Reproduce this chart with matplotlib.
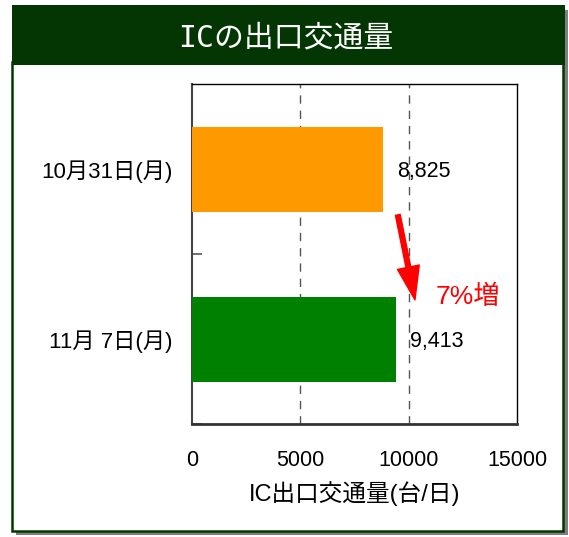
import matplotlib
matplotlib.use("Agg")
import matplotlib.pyplot as plt
from matplotlib.patches import Rectangle

plt.rcParams['font.family'] = ['Liberation Sans', 'Noto Sans CJK JP']

# data
dates = ['10月31日(月)', '11月 7日(月)']
traffic = [8825, 9413]
bar_colors = ['#FF9900', '#008000']
x_ticks = [0, 5000, 10000, 15000]
title = 'ICの出口交通量'
x_label = 'IC出口交通量(台/日)'
change_text = '7%増'

W, H = 569, 537
fig = plt.figure(figsize=(W / 100, H / 100), dpi=100)


def px(x0, y0, x1, y1):
    # pixel box (top-left origin) -> figure fractions
    return (x0 / W, 1 - y1 / H), (x1 - x0) / W, (y1 - y0) / H


# panel frame: shadow, white box, header
xy, w, h = px(16, 10, 568, 535)
fig.patches.append(Rectangle(xy, w, h, transform=fig.transFigure,
                             facecolor='#7f7f7f', edgecolor='none', zorder=0))
xy, w, h = px(12, 62, 563, 531)
fig.patches.append(Rectangle(xy, w, h, transform=fig.transFigure,
                             facecolor='white', edgecolor='#033603', lw=1.8, zorder=1))
xy, w, h = px(12, 5, 565, 65)
fig.patches.append(Rectangle(xy, w, h, transform=fig.transFigure,
                             facecolor='#033603', edgecolor='none', zorder=2))
fig.text(286 / W, 1 - 38 / H, title, color='white', fontsize=21.5,
         ha='center', va='center', family=['DejaVu Sans Mono', 'Noto Sans CJK JP'])

(l, b), w, h = px(192, 84, 517, 424)
ax = fig.add_axes([l, b, w, h])
ax.set_zorder(3)

ypos = list(range(len(dates)))
ax.barh(ypos, traffic, height=0.5, color=bar_colors, zorder=3)
for y, v in zip(ypos, traffic):
    ax.annotate(f'{v:,}', (v, y), xytext=(10, -1.5), textcoords='offset points',
                ha='left', va='center', fontsize=15.5)

ax.set_xlim(x_ticks[0], x_ticks[-1])
ax.set_ylim(1.5, -0.5)
ax.set_xticks(x_ticks)
ax.set_yticks(ypos)
ax.set_yticklabels(dates, fontsize=16)
ax.set_yticks([0.5, 1.5], minor=True)
ax.tick_params(axis='y', which='major', length=0, pad=14)
ax.tick_params(axis='y', which='minor', direction='in', length=7, color='#555555', width=1.2)
ax.tick_params(axis='x', which='major', length=0, pad=19, labelsize=15.5)
ax.set_xlabel(x_label, fontsize=17, labelpad=7)

for xv in x_ticks[1:-1]:
    ax.axvline(xv, color='#555555', lw=1, ls=(0, (6, 5)), zorder=1)

for s in ['top', 'right']:
    ax.spines[s].set_color('black')
    ax.spines[s].set_linewidth(1)
ax.spines['left'].set_color('#444444')
ax.spines['left'].set_linewidth(1.5)
ax.spines['bottom'].set_color('#333333')
ax.spines['bottom'].set_linewidth(2)

# change arrow between the two bars
ax.annotate('', xy=(10290, 0.77), xytext=(9500, 0.27),
            arrowprops=dict(facecolor='red', edgecolor='red', width=3.5,
                            headwidth=16, headlength=24, shrink=0))
ax.text(11250, 0.75, change_text, color='red', fontsize=19,
        ha='left', va='center')

fig.savefig('out.png', dpi=100)
